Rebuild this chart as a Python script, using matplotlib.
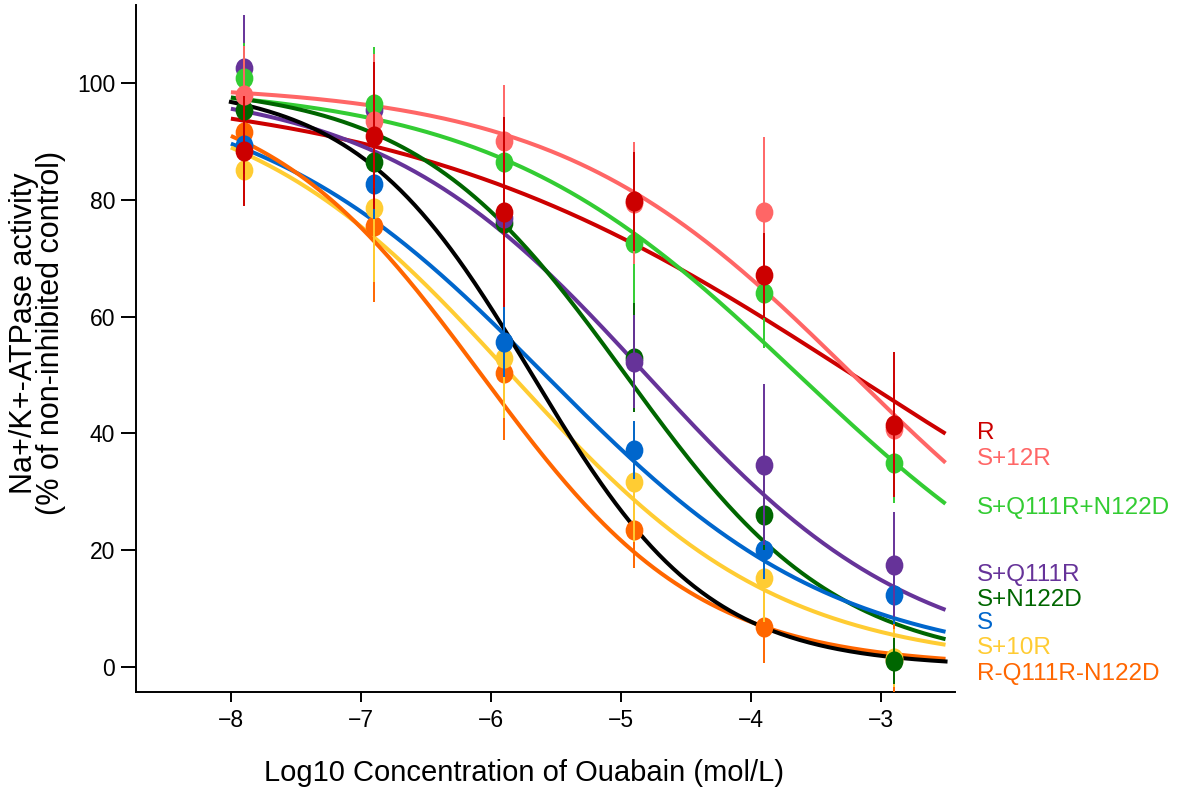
import numpy as np
import matplotlib
matplotlib.use("Agg")
import matplotlib.pyplot as plt
from matplotlib.path import Path

plt.rcParams['font.family'] = ['Liberation Sans', 'DejaVu Sans']

# ---- data ----
log_conc = [-7.9, -6.9, -5.9, -4.9, -3.9, -2.9]

series_names = ["R", "S+12R", "S+Q111R+N122D", "S+Q111R", "S+N122D", "S", "S+10R", "R-Q111R-N122D"]
series_colors = ["#CC0000", "#FF6666", "#33CC33", "#663399", "#006600", "#0066CC", "#FFCC33", "#FF6600"]

act_R = [88.4, 91.0, 78.0, 79.8, 67.1, 41.5]
act_S12R = [98.0, 93.5, 90.1, 79.5, 77.9, 40.7]
act_SQN = [101.0, 96.5, 86.6, 72.7, 64.0, 35.0]
act_SQ = [102.7, 95.5, 77.0, 52.3, 34.6, 17.5]
act_SN = [95.5, 86.5, 76.1, 53.0, 26.0, 1.0]
act_S = [89.5, 82.8, 55.6, 37.2, 20.0, 12.3]
act_S10R = [85.1, 78.6, 53.0, 31.7, 15.3, 1.5]
act_RQN = [91.6, 75.5, 50.4, 23.5, 6.9, 1.2]

err_R = [9.4, 12.6, 16.3, 8.5, 7.3, 12.4]
err_S12R = [8.5, 11.5, 9.7, 10.5, 13.0, 8.0]
err_SQN = [6.0, 9.7, 7.0, 10.3, 9.3, 7.0]
err_SQ = [9.0, 6.0, 6.0, 8.0, 13.8, 9.0]
err_SN = [6.0, 7.0, 8.0, 9.4, 6.0, 4.0]
err_S = [5.0, 6.0, 6.0, 5.0, 5.0, 5.0]
err_S10R = [6.0, 12.7, 10.3, 10.3, 7.7, 5.0]
err_RQN = [8.0, 13.0, 11.5, 6.5, 6.2, 8.0]

# fitted dose-response curve parameters (logIC50, Hill slope)
fit_logic50 = [-3.21, -3.21, -3.63, -4.80, -4.96, -5.58, -5.84, -6.07]
fit_hill = [0.249, 0.379, 0.364, 0.42, 0.53, 0.388, 0.421, 0.521]
black_logic50 = -5.68
black_hill = 0.64

label_y = [40.0, 35.6, 27.2, 15.8, 11.5, 7.5, 3.3, -1.2]

values = [act_R, act_S12R, act_SQN, act_SQ, act_SN, act_S, act_S10R, act_RQN]
errors = [err_R, err_S12R, err_SQN, err_SQ, err_SN, err_S, err_S10R, err_RQN]


def dose_response(x, logic50, hill):
    return 100.0 / (1.0 + 10 ** ((x - logic50) * hill))


fig = plt.figure(figsize=(11.8, 7.88), dpi=100)
ax = fig.add_axes([0.1153, 0.122, 0.809 - 0.1153, 0.994 - 0.122])

xc = np.linspace(-8.0, -2.5, 300)

circ = Path.unit_circle()
oval = Path(circ.vertices * np.array([0.88, 1.0]), circ.codes)

for i, name in enumerate(series_names):
    ax.plot(xc, dose_response(xc, fit_logic50[i], fit_hill[i]), color=series_colors[i], lw=2.9,
            zorder=3, solid_capstyle='butt')
ax.plot(xc, dose_response(xc, black_logic50, black_hill), color='black', lw=2.9, zorder=3)

draw_order = [7, 6, 5, 4, 3, 2, 1, 0]
for k, i in enumerate(draw_order):
    ax.errorbar(log_conc, values[i], yerr=errors[i], fmt='none', ecolor=series_colors[i],
                elinewidth=1.4, capsize=0, zorder=4 + k * 0.1)
    ax.plot(log_conc, values[i], linestyle='none', marker=oval, markersize=14.5,
            color=series_colors[i], markeredgewidth=0, zorder=4.05 + k * 0.1)

for i, name in enumerate(series_names):
    ax.text(-2.26, label_y[i], name, color=series_colors[i], fontsize=17.5, va='center', ha='left',
            clip_on=False)

ax.set_xlim(-8.73, -2.43)
ax.set_ylim(-4.3, 113.5)
ax.set_xticks([-8, -7, -6, -5, -4, -3])
ax.set_xticklabels(["\u22128", "\u22127", "\u22126", "\u22125", "\u22124", "\u22123"])
ax.set_yticks([0, 20, 40, 60, 80, 100])

for s in ['top', 'right']:
    ax.spines[s].set_visible(False)
for s in ['left', 'bottom']:
    ax.spines[s].set_linewidth(1.4)

ax.tick_params(axis='y', length=11, width=1.4, labelsize=16.5, pad=4)
ax.tick_params(axis='x', length=7, width=1.4, labelsize=16.5, pad=5)

fig.text(0.444, 0.019, "Log10 Concentration of Ouabain (mol/L)", fontsize=21,
         ha='center', va='center')
fig.text(0.0315, 0.577, "Na+/K+-ATPase activity\n(% of non-inhibited control)", fontsize=22,
         ha='center', va='center', rotation=90, multialignment='center', linespacing=0.88)

fig.savefig("out.png", dpi=100)
